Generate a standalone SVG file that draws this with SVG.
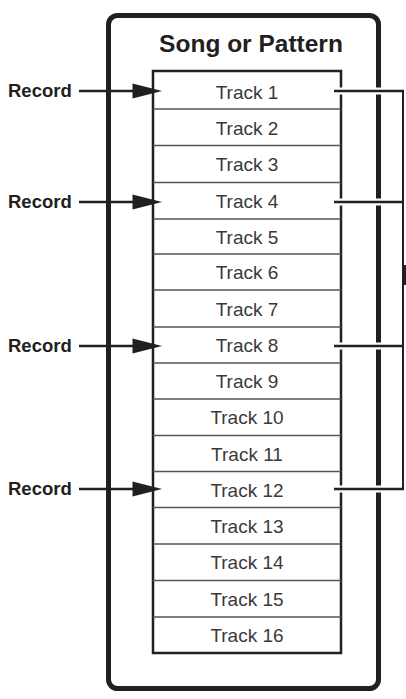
<svg xmlns="http://www.w3.org/2000/svg" width="406" height="699" viewBox="0 0 406 699">
<style>
.frame{fill:none;stroke:#231f20;stroke-width:5}
.tbl{fill:#fff;stroke:#231f20;stroke-width:2.5}
.row{stroke:#555;stroke-width:1.5}
.trk{font-family:"Liberation Sans",Arial,sans-serif;font-size:19px;fill:#3a3a3a;text-anchor:middle}
.ttl{font-family:"Liberation Sans",Arial,sans-serif;font-size:24.5px;font-weight:bold;fill:#231f20;text-anchor:middle}
.rec{font-family:"Liberation Sans",Arial,sans-serif;font-size:18.5px;font-weight:bold;fill:#231f20}
.ln{stroke:#231f20;stroke-width:2.5;fill:none}
.vln{stroke:#231f20;stroke-width:2;fill:none}
.case{stroke:#fff;stroke-width:7}
.head{fill:#231f20}
</style>
<rect width="406" height="699" fill="#fff"/>
<g id="song">
<rect class="frame" x="108.5" y="15.5" width="270" height="673" rx="9"/>
<text class="ttl" x="251" y="52">Song or Pattern</text>
</g>
<g id="tracks">
<rect class="tbl" x="153" y="71" width="188" height="582"/>
<g id="track1"><text class="trk" x="247" y="99">Track 1</text></g>
<g id="track2"><line class="row" x1="153" y1="109" x2="341" y2="109"/><text class="trk" x="247" y="134.5">Track 2</text></g>
<g id="track3"><line class="row" x1="153" y1="145.5" x2="341" y2="145.5"/><text class="trk" x="247" y="171">Track 3</text></g>
<g id="track4"><line class="row" x1="153" y1="182.5" x2="341" y2="182.5"/><text class="trk" x="247" y="208">Track 4</text></g>
<g id="track5"><line class="row" x1="153" y1="219" x2="341" y2="219"/><text class="trk" x="247" y="243.5">Track 5</text></g>
<g id="track6"><line class="row" x1="153" y1="254" x2="341" y2="254"/><text class="trk" x="247" y="279">Track 6</text></g>
<g id="track7"><line class="row" x1="153" y1="290" x2="341" y2="290"/><text class="trk" x="247" y="315.5">Track 7</text></g>
<g id="track8"><line class="row" x1="153" y1="327" x2="341" y2="327"/><text class="trk" x="247" y="352">Track 8</text></g>
<g id="track9"><line class="row" x1="153" y1="363" x2="341" y2="363"/><text class="trk" x="247" y="388">Track 9</text></g>
<g id="track10"><line class="row" x1="153" y1="399" x2="341" y2="399"/><text class="trk" x="247" y="424">Track 10</text></g>
<g id="track11"><line class="row" x1="153" y1="435.5" x2="341" y2="435.5"/><text class="trk" x="247" y="460.5">Track 11</text></g>
<g id="track12"><line class="row" x1="153" y1="471.5" x2="341" y2="471.5"/><text class="trk" x="247" y="496.5">Track 12</text></g>
<g id="track13"><line class="row" x1="153" y1="507.5" x2="341" y2="507.5"/><text class="trk" x="247" y="532.5">Track 13</text></g>
<g id="track14"><line class="row" x1="153" y1="544" x2="341" y2="544"/><text class="trk" x="247" y="569">Track 14</text></g>
<g id="track15"><line class="row" x1="153" y1="580.5" x2="341" y2="580.5"/><text class="trk" x="247" y="605.5">Track 15</text></g>
<g id="track16"><line class="row" x1="153" y1="617" x2="341" y2="617"/><text class="trk" x="247" y="642">Track 16</text></g>
</g>
<g id="records">
<text class="rec" x="8" y="97">Record</text>
<text class="rec" x="8" y="208">Record</text>
<text class="rec" x="8" y="352">Record</text>
<text class="rec" x="8" y="495">Record</text>
</g>
<g id="connectors">
<line class="ln" x1="79" y1="91" x2="135" y2="91"/>
<polygon class="head" points="132.5,83.5 162,91 132.5,98.5"/>
<line class="ln" x1="79" y1="202" x2="135" y2="202"/>
<polygon class="head" points="132.5,194.5 162,202 132.5,209.5"/>
<line class="ln" x1="79" y1="346" x2="135" y2="346"/>
<polygon class="head" points="132.5,338.5 162,346 132.5,353.5"/>
<line class="ln" x1="79" y1="489" x2="135" y2="489"/>
<polygon class="head" points="132.5,481.5 162,489 132.5,496.5"/>
<line class="case" x1="337" y1="91" x2="400" y2="91"/>
<line class="case" x1="337" y1="202" x2="400" y2="202"/>
<line class="case" x1="337" y1="346" x2="400" y2="346"/>
<line class="case" x1="337" y1="489" x2="400" y2="489"/>
<line class="ln" x1="334" y1="91" x2="404" y2="91"/>
<line class="ln" x1="334" y1="202" x2="404" y2="202"/>
<line class="ln" x1="334" y1="346" x2="404" y2="346"/>
<line class="ln" x1="334" y1="489" x2="404" y2="489"/>
<line class="vln" x1="403" y1="90" x2="403" y2="490"/>
<rect class="head" x="403" y="265" width="3" height="20"/>
</g>
</svg>
